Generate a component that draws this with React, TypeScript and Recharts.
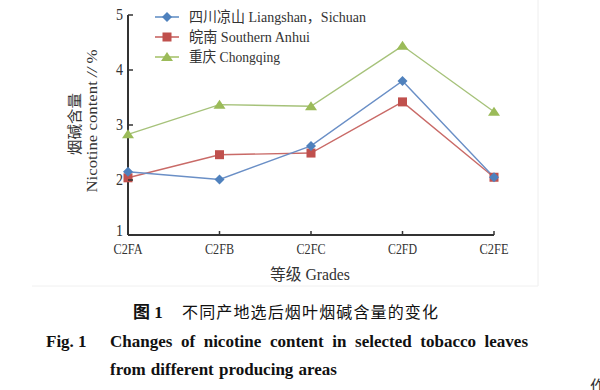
import { LineChart, Line, XAxis, YAxis } from "recharts";

const grades = ["C2FA", "C2FB", "C2FC", "C2FD", "C2FE"];
const liangshan = [2.15, 2.01, 2.62, 3.8, 2.05];
const anhui = [2.04, 2.46, 2.49, 3.42, 2.05];
const chongqing = [2.83, 3.37, 3.34, 4.44, 3.24];
const yTicks = [1, 2, 3, 4, 5];
const seriesNames = ["四川凉山 Liangshan，Sichuan", "皖南 Southern Anhui", "重庆 Chongqing"];
const legendWidths = [177, 121, 91];

const BLUE = "#4f81bd";
const RED = "#c0504d";
const GREEN = "#9bbb59";
const AXIS = "#333";
const SERIF = "'Liberation Serif', 'DejaVu Serif', 'Noto Sans CJK SC', serif";

const data = grades.map((g, i) => ({
  grade: g,
  liangshan: liangshan[i],
  anhui: anhui[i],
  chongqing: chongqing[i],
}));

function diamond(cx: number, cy: number, r: number) {
  return `${cx},${cy - r} ${cx + r},${cy} ${cx},${cy + r} ${cx - r},${cy}`;
}

function triangle(cx: number, cy: number, r: number) {
  return `${cx},${cy - r} ${cx + r + 1},${cy + r - 1} ${cx - r - 1},${cy + r - 1}`;
}

const DiamondDot = (props: any) => (
  <polygon key={`d${props.index}`} points={diamond(props.cx, props.cy, 5)} fill={BLUE} />
);
const SquareDot = (props: any) => (
  <rect key={`s${props.index}`} x={props.cx - 4.5} y={props.cy - 4.5} width={9} height={9} fill={RED} />
);
const TriangleDot = (props: any) => (
  <polygon key={`t${props.index}`} points={triangle(props.cx, props.cy, 5)} fill={GREEN} />
);

// ticks point inward, labels sit left of / below the axis
const YTick = ({ x, y, payload }: any) => (
  <g>
    <line x1={x + 6} x2={x + 11} y1={y} y2={y} stroke={AXIS} strokeWidth={1.5} />
    <text
      x={x + 1}
      y={payload.value === 1 ? y + 1 : y + 5}
      textAnchor="end"
      fontSize={16}
      fill="#333"
      fontFamily={SERIF}
      textLength={7}
      lengthAdjust="spacingAndGlyphs"
    >
      {payload.value}
    </text>
  </g>
);

const XTick = ({ x, y, payload }: any) => (
  <g>
    <line x1={x} x2={x} y1={y - 6} y2={y - 10} stroke={AXIS} strokeWidth={1.5} />
    <text
      x={x}
      y={y + 13}
      textAnchor="middle"
      fontSize={15}
      fill="#333"
      fontFamily={SERIF}
      textLength={29}
      lengthAdjust="spacingAndGlyphs"
    >
      {payload.value}
    </text>
  </g>
);

export default function App() {
  const colors = [BLUE, RED, GREEN];
  return (
    <div style={{ position: "absolute", left: 0, top: 0, width: 600, height: 390, background: "#fff" }}>
      <LineChart width={600} height={290} data={data} margin={{ top: 15, right: 106, bottom: 25, left: 98 }}>
        <XAxis
          dataKey="grade"
          height={30}
          interval={0}
          padding={{ left: 0, right: 0 }}
          axisLine={{ stroke: AXIS, strokeWidth: 2 }}
          tickLine={false}
          tickSize={0}
          tickMargin={6}
          tick={<XTick />}
        />
        <YAxis
          width={30}
          domain={[1, 5]}
          ticks={yTicks}
          interval={0}
          axisLine={{ stroke: AXIS, strokeWidth: 2 }}
          tickLine={false}
          tickSize={0}
          tickMargin={6}
          tick={<YTick />}
        />
        <Line dataKey="chongqing" stroke="#a6c27a" strokeWidth={1.4} dot={TriangleDot} isAnimationActive={false} />
        <Line dataKey="anhui" stroke="#c96a67" strokeWidth={1.4} dot={SquareDot} isAnimationActive={false} />
        <Line dataKey="liangshan" stroke="#6a8fc6" strokeWidth={1.4} dot={DiamondDot} isAnimationActive={false} />
      </LineChart>

      <svg width={600} height={390} style={{ position: "absolute", left: 0, top: 0, pointerEvents: "none" }}>
        <line x1={538} x2={538} y1={0} y2={286} stroke="#eeeeee" strokeWidth={1} />
        <line x1={32} x2={538} y1={286} y2={286} stroke="#f0f0f0" strokeWidth={1} />

        {seriesNames.map((name, i) => {
          const y = 17 + i * 20;
          return (
            <g key={name}>
              <line x1={155} x2={179} y1={y} y2={y} stroke={colors[i]} strokeWidth={1.4} />
              {i === 0 && <polygon points={diamond(167, y, 5)} fill={BLUE} />}
              {i === 1 && <rect x={162.5} y={y - 4.5} width={9} height={9} fill={RED} />}
              {i === 2 && <polygon points={triangle(167, y, 5)} fill={GREEN} />}
              <text
                x={189}
                y={y + 5}
                fontSize={14.5}
                fill="#333"
                fontFamily={SERIF}
                textLength={legendWidths[i]}
                lengthAdjust="spacingAndGlyphs"
              >
                {name}
              </text>
            </g>
          );
        })}

        <text
          transform="translate(73,124) rotate(-90)"
          textAnchor="middle"
          dominantBaseline="central"
          fontSize={15}
          fill="#333"
          fontFamily="'Noto Sans CJK SC', serif"
          textLength={62}
          lengthAdjust="spacingAndGlyphs"
        >
          烟碱含量
        </text>
        <text
          transform="translate(92,121) rotate(-90)"
          textAnchor="middle"
          dominantBaseline="central"
          fontSize={15}
          fill="#333"
          fontFamily={SERIF}
          textLength={143}
          lengthAdjust="spacingAndGlyphs"
        >
          Nicotine content <tspan fontStyle="italic">//</tspan> %
        </text>
        <text
          x={310}
          y={280}
          textAnchor="middle"
          fontSize={16}
          fill="#333"
          fontFamily={SERIF}
          textLength={80}
          lengthAdjust="spacingAndGlyphs"
        >
          等级 Grades
        </text>

        <text x={133} y={318} fontSize={17} fontWeight="bold" fill="#111" fontFamily={SERIF}>
          图 1
        </text>
        <text
          x={182}
          y={318}
          fontSize={16}
          fill="#111"
          fontFamily="'Noto Sans CJK SC', sans-serif"
          textLength={256}
          lengthAdjust="spacing"
        >
          不同产地选后烟叶烟碱含量的变化
        </text>
        <text x={590} y={392} fontSize={16} fill="#333" fontFamily="'Noto Sans CJK SC', sans-serif">
          作
        </text>
      </svg>

      <div
        style={{
          position: "absolute",
          left: 46,
          top: 330,
          fontFamily: SERIF,
          fontWeight: "bold",
          fontSize: 17,
          color: "#111",
          lineHeight: "24px",
        }}
      >
        Fig. 1
      </div>
      <div
        style={{
          position: "absolute",
          left: 110,
          top: 330,
          width: 418,
          display: "flex",
          justifyContent: "space-between",
          fontFamily: SERIF,
          fontWeight: "bold",
          fontSize: 17,
          color: "#111",
          lineHeight: "24px",
        }}
      >
        {"Changes of nicotine content in selected tobacco leaves".split(" ").map((w) => (
          <span key={w}>{w}</span>
        ))}
      </div>
      <div
        style={{
          position: "absolute",
          left: 110,
          top: 358,
          fontFamily: SERIF,
          fontWeight: "bold",
          fontSize: 17,
          color: "#111",
          lineHeight: "24px",
          wordSpacing: 1,
        }}
      >
        from different producing areas
      </div>
    </div>
  );
}
